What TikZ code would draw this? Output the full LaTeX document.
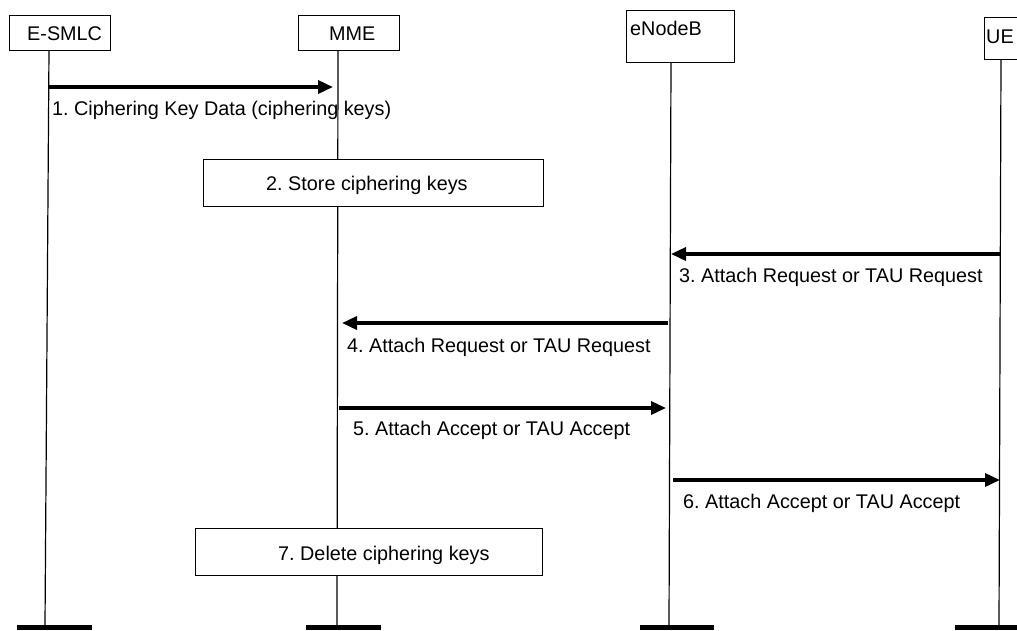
\documentclass[tikz,border=0pt]{standalone}
\usepackage{fontspec}
\setmainfont{Liberation Sans}
\usetikzlibrary{arrows.meta}
\frenchspacing
\begin{document}
\begin{tikzpicture}[x=1pt,y=-1pt,
  hdr/.style={draw, line width=1pt, inner sep=0pt, fill=white},
  lbl/.style={inner sep=0pt, anchor=base west, font=\fontsize{19.8}{22}\selectfont},
  life/.style={line width=1.2pt},
  msg/.style={line width=3.5pt, -{Triangle[length=15pt,width=13pt]}},
  act/.style={draw, line width=1pt, fill=white, inner sep=0pt},
  lbar/.style={fill=black, inner sep=0pt, minimum height=5pt}]
\useasboundingbox (0,0) rectangle (1017,630);

% lifelines
\coordinate (l1t) at (49,50);   \coordinate (l1b) at (45,625);
\coordinate (l2t) at (338,50);  \coordinate (l2b) at (337,625);
\coordinate (l3t) at (671,62);  \coordinate (l3b) at (669,625);
\coordinate (l4t) at (1001,59); \coordinate (l4b) at (999,625);
\draw[life] (l1t) -- (l1b);
\draw[life] (l2t) -- (l2b);
\draw[life] (l3t) -- (l3b);
\draw[life] (l4t) -- (l4b);

% header boxes
\node[hdr, minimum width=101pt, minimum height=35pt] (esmlc) at (59.5,32.5) {};
\node[hdr, minimum width=101pt, minimum height=35pt] (mme) at (348.5,32.5) {};
\node[hdr, minimum width=108pt, minimum height=52pt] (enb) at (680,36) {};
\node[hdr, minimum width=42pt, minimum height=42pt] (ue) at (1005,38) {};
\node[lbl] (esmlct) at (27,40) {E-SMLC};
\node[lbl] (mmet) at (329,40) {MME};
\node[lbl] (enbt) at (630,35) {eNodeB};
\node[lbl] (uet) at (986,43) {UE};

% bottom bars
\node[lbar, minimum width=75pt] (b1) at (54.5,627.5) {};
\node[lbar, minimum width=75pt] (b2) at (343.5,627.5) {};
\node[lbar, minimum width=74pt] (b3) at (677,627.5) {};
\node[lbar, minimum width=75pt] (b4) at (992.5,627.5) {};

% action boxes
\node[act, minimum width=340pt, minimum height=47pt] (st) at (373,182.5) {};
\node[lbl] (stt) at (266,190) {2. Store ciphering keys};
\node[act, minimum width=347pt, minimum height=47pt] (dl) at (368.5,551.5) {};
\node[lbl] (dlt) at (278,560) {7. Delete ciphering keys};

% messages
\coordinate (m1a) at (49,87);   \coordinate (m1b) at (333,87);
\coordinate (m3a) at (1000,254); \coordinate (m3b) at (671,254);
\coordinate (m4a) at (668,323); \coordinate (m4b) at (342,323);
\coordinate (m5a) at (339,408); \coordinate (m5b) at (666,408);
\coordinate (m6a) at (673,480); \coordinate (m6b) at (1000,480);
\draw[msg] (m1a) -- (m1b);
\draw[msg] (m3a) -- (m3b);
\draw[msg] (m4a) -- (m4b);
\draw[msg] (m5a) -- (m5b);
\draw[msg] (m6a) -- (m6b);

\node[lbl] (t1) at (52,115) {1. Ciphering Key Data (ciphering keys)};
\node[lbl] (t3) at (679,282) {3. Attach Request or TAU Request};
\node[lbl] (t4) at (347,352) {4. Attach Request or TAU Request};
\node[lbl] (t5) at (353,435) {5. Attach Accept or TAU Accept};
\node[lbl] (t6) at (683,508) {6. Attach Accept or TAU Accept};
\end{tikzpicture}
\end{document}
